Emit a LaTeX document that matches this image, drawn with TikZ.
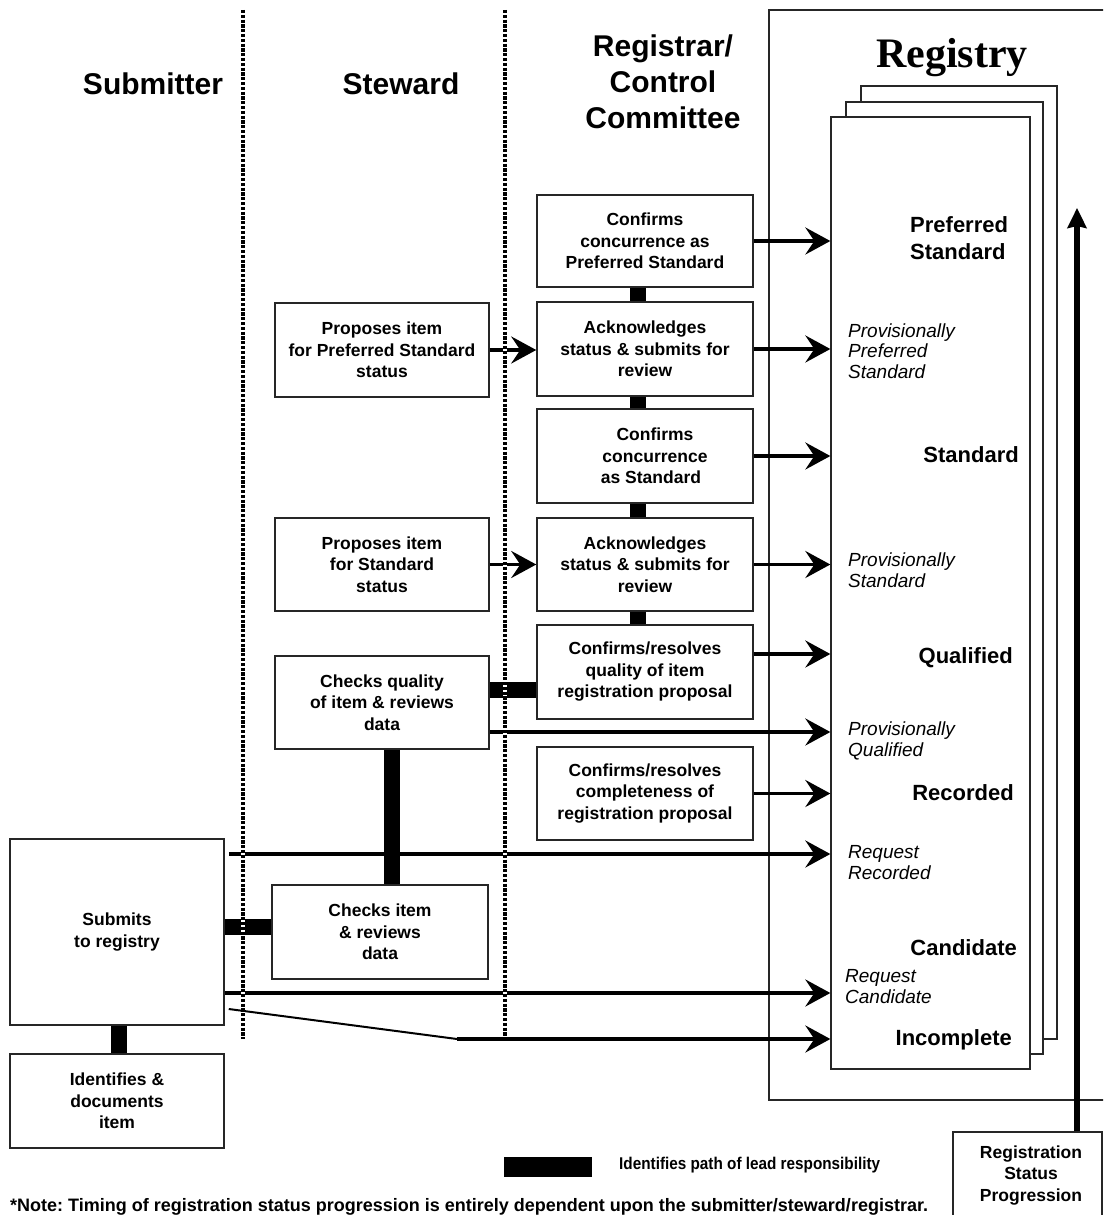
\documentclass[tikz,border=0pt]{standalone}
\usepackage{fontspec}
\setmainfont{Liberation Sans}
\newfontfamily\registryfont{Liberation Serif}
\newfontfamily\legendfont{Liberation Sans}[FakeStretch=0.9]
\usetikzlibrary{arrows.meta,calc}
\frenchspacing

\begin{document}
\begin{tikzpicture}[x=1pt,y=-1pt,
  proc/.style={draw=black!85, line width=1.5pt, fill=white, align=center,
    inner sep=0pt, font=\bfseries\fontsize{17.5}{21.5}\selectfont},
  pagebox/.style={draw=black!85, line width=1.3pt, fill=white},
  lanetitle/.style={font=\bfseries\fontsize{30}{36}\selectfont, inner sep=0pt},
  statusbold/.style={font=\bfseries\fontsize{22}{27}\selectfont, inner sep=0pt},
  statusital/.style={font=\itshape\fontsize{19}{20.5}\selectfont, inner sep=0pt, align=left},
  leadbar/.style={line width=16pt},
  flow/.style={line width=3.7pt, -{Stealth[length=25pt,width=27pt,inset=9pt]}},
  progress/.style={line width=5.5pt, -{Stealth[length=20pt,width=19pt,inset=2pt]}},
  divwhite/.style={white, line width=4.5pt},
  divdots/.style={black, line width=4.5pt, dash pattern=on 3.2pt off 1.6pt}
]
\clip (0,0) rectangle (1103,1215);
\fill[white] (0,0) rectangle (1103,1215);

% Registry frame and stacked pages
\draw[draw=black!85, line width=1.5pt] (769,10) rectangle (1125,1100);
\draw[pagebox] (861,86) rectangle (1057,1039);
\draw[pagebox] (846,102) rectangle (1043,1054);
\node[pagebox, minimum width=199, minimum height=952, inner sep=0pt] (front) at (930.5,593) {};

% Lane titles
\node[lanetitle, anchor=base] (tsub) at (153,94) {Submitter};
\node[lanetitle, anchor=base] (tstw) at (401,94) {Steward};
\node[lanetitle, align=center] (treg) at (663,82) {Registrar/\\Control\\Committee};
\node[font=\registryfont\bfseries\fontsize{42}{46}\selectfont, inner sep=0pt, anchor=base] (tregistry) at (952,67) {Registry};

% Registrar / Control Committee column
\node[proc, minimum width=216, minimum height=92] (cps) at (645,241) {Confirms\\concurrence as\\Preferred Standard};
\node[proc, minimum width=216, minimum height=94] (ack1) at (645,349) {Acknowledges\\status \& submits for\\review};
\node[proc, minimum width=216, minimum height=94] (cst) at (645,456) {\hspace*{20pt}Confirms\\\hspace*{20pt}concurrence\\\hspace*{12pt}as Standard};
\node[proc, minimum width=216, minimum height=93] (ack2) at (645,564.5) {Acknowledges\\status \& submits for\\review};
\node[proc, minimum width=216, minimum height=94] (cfq) at (645,672) {Confirms/resolves\\quality of item\\registration proposal};
\node[proc, minimum width=216, minimum height=93] (cfc) at (645,793.5) {Confirms/resolves\\completeness of\\registration proposal};

% Steward column
\node[proc, minimum width=214, minimum height=94] (pps) at (382,350) {Proposes item\\for Preferred Standard\\status};
\node[proc, minimum width=214, minimum height=93] (pst) at (382,564.5) {Proposes item\\for Standard\\status};
\node[proc, minimum width=214, minimum height=93] (chq) at (382,702.5) {Checks quality\\of item \& reviews\\data};
\node[proc, minimum width=216, minimum height=94] (chk) at (380,932) {Checks item\\\& reviews\\data};

% Submitter column
\node[proc, minimum width=214, minimum height=186] (sub) at (117,932) {Submits\\to registry};
\node[proc, minimum width=214, minimum height=94] (idn) at (117,1101) {Identifies \&\\documents\\item};

% Registration status progression
\node[draw=black!85, line width=1.5pt, fill=white, minimum width=149, minimum height=100, anchor=north west, inner sep=0pt] (rsp) at (952,1131) {};
\node[font=\bfseries\fontsize{17.5}{21.5}\selectfont, align=center, inner sep=0pt] (rsptext) at (1031,1175) {Registration\\Status\\Progression};
\coordinate (progtip) at (1077,208);
\draw[progress] (rsp.north -| progtip) -- (progtip);

% Status labels on the registry page (base = baseline of the last line)
\node[statusbold, align=left, anchor=base west] (lps) at (910,259) {Preferred\\Standard};
\node[statusital, anchor=base west] (lpps) at (848,378) {Provisionally\\Preferred\\Standard};
\node[statusbold, anchor=base east] (lstd) at (1019,462) {Standard};
\node[statusital, anchor=base west] (lpst) at (848,587) {Provisionally\\Standard};
\node[statusbold, anchor=base east] (lqual) at (1013,663) {Qualified};
\node[statusital, anchor=base west] (lpq) at (848,756) {Provisionally\\Qualified};
\node[statusbold, anchor=base east] (lrec) at (1014,800) {Recorded};
\node[statusital, anchor=base west] (lrr) at (848,879) {Request\\Recorded};
\node[statusbold, anchor=base east] (lcand) at (1017,955) {Candidate};
\node[statusital, anchor=base west] (lrc) at (845,1003) {Request\\Candidate};
\node[statusbold, anchor=base east] (linc) at (1012,1045) {Incomplete};

% Paths of lead responsibility
\draw[leadbar] ([xshift=-7pt]cps.south) -- ([xshift=-7pt]ack1.north);
\draw[leadbar] ([xshift=-7pt]ack1.south) -- ([xshift=-7pt]cst.north);
\draw[leadbar] ([xshift=-7pt]cst.south) -- ([xshift=-7pt]ack2.north);
\draw[leadbar] ([xshift=-7pt]ack2.south) -- ([xshift=-7pt]cfq.north);
\draw[leadbar] ([yshift=13pt]chq.east) -- ([yshift=13pt]chq.east -| cfq.west);
\draw[leadbar] ([xshift=9.5pt]chq.south) -- ([xshift=9.5pt]chq.south |- chk.north);
\draw[leadbar] ([yshift=5pt]sub.east) -- ([yshift=5pt]sub.east -| chk.west);
\draw[leadbar] ([xshift=2pt]sub.south) -- ([xshift=2pt]sub.south |- idn.north);

% Status arrows into the registry
\draw[flow] (cps.east) -- (cps.east -| front.west);
\draw[flow] (ack1.east) -- (ack1.east -| front.west);
\draw[flow] (cst.east) -- (cst.east -| front.west);
\draw[flow] (ack2.east) -- (ack2.east -| front.west);
\draw[flow] ([yshift=18pt]cfq.east) -- ([yshift=18pt]cfq.east -| front.west);
\draw[flow] ([yshift=-29.5pt]chq.east) -- ([yshift=-29.5pt]chq.east -| front.west);
\draw[flow] (cfc.east) -- (cfc.east -| front.west);
\draw[flow] ([xshift=4pt,yshift=78pt]sub.east) -- ([yshift=78pt]sub.east -| front.west);
\draw[flow] ([yshift=-61pt]sub.east) -- ([yshift=-61pt]sub.east -| front.west);
\coordinate (kink) at (457,1039);
\draw[line width=2pt] ([xshift=4pt,yshift=-77pt]sub.east) -- (kink);
\draw[flow] (kink) -- (kink -| front.west);

% Proposals handed to the registrar
\draw[flow] (pps.east) -- (pps.east -| ack1.west);
\draw[flow] (pst.east) -- (pst.east -| ack2.west);

% Lane dividers
\foreach \lx/\nm in {243/dva, 505/dvb} {
  \coordinate (\nm top) at (\lx,10);
  \coordinate (\nm bot) at (\lx,1039);
  \draw[divwhite] (\nm top) -- (\nm bot);
  \draw[divdots] (\nm top) -- (\nm bot);
}

% Legend and note
\node[fill=black, minimum width=88, minimum height=20, inner sep=0pt, anchor=north west] (legkey) at (504,1157) {};
\node[font=\legendfont\bfseries\fontsize{17}{20}\selectfont, inner sep=0pt, anchor=base west] (legtext) at (619,1169) {Identifies path of lead responsibility};
\node[font=\bfseries\fontsize{18}{20}\selectfont, inner sep=0pt, anchor=base west] (note) at (10,1211) {*Note: Timing of registration status progression is entirely dependent upon the submitter/steward/registrar.};
\end{tikzpicture}
\end{document}
